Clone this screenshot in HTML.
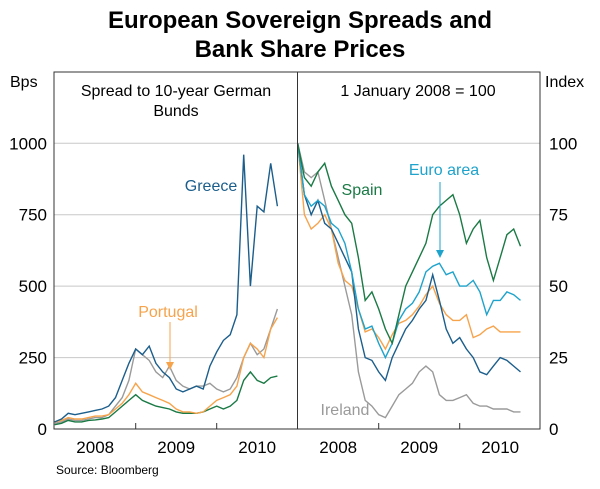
<!DOCTYPE html>
<html><head><meta charset="utf-8"><style>
body{margin:0;background:#fff;}
svg{display:block;font-family:"Liberation Sans",Arial,sans-serif;}
</style></head><body>
<svg id="chart" width="600" height="489">
<text x="300" y="28" text-anchor="middle" font-size="24" font-weight="bold">European Sovereign Spreads and</text>
<text x="300" y="57" text-anchor="middle" font-size="24" font-weight="bold">Bank Share Prices</text>
<text x="10" y="87" font-size="16">Bps</text>
<text x="545" y="87" font-size="16">Index</text>
<text x="176" y="96" text-anchor="middle" font-size="16">Spread to 10-year German</text>
<text x="176" y="116" text-anchor="middle" font-size="16">Bunds</text>
<text x="418" y="96" text-anchor="middle" font-size="16">1 January 2008 = 100</text>
<g id="grid"></g><g id="series"></g>
<rect x="54" y="72" width="486" height="357" fill="none" stroke="#333" stroke-width="1"/>
<line x1="297.5" y1="72" x2="297.5" y2="429" stroke="#333"/>
<g id="axes"></g>
<text x="211" y="191" text-anchor="middle" font-size="16" fill="#1b5e8c">Greece</text>
<text x="168" y="317" text-anchor="middle" font-size="16" fill="#f7a34b">Portugal</text>
<line x1="170" y1="322" x2="170" y2="362" stroke="#f7a34b"/>
<polygon points="166,362 174,362 170,370" fill="#f7a34b"/>
<text x="362" y="195" text-anchor="middle" font-size="16" fill="#1a7a45">Spain</text>
<text x="444" y="175" text-anchor="middle" font-size="16" fill="#1ea3cc">Euro area</text>
<line x1="440" y1="182" x2="440" y2="250" stroke="#1ea3cc"/>
<polygon points="436,250 444,250 440,258" fill="#1ea3cc"/>
<text x="345" y="415" text-anchor="middle" font-size="16" fill="#9a9a9a">Ireland</text>
<text x="56" y="474" font-size="12">Source: Bloomberg</text>
</svg>
<script>
const months=[0,1,2,3,4,5,6,7,8,9,10,11,12,13,14,15,16,17,18,19,20,21,22,23,24,25,26,27,28,29,30,31,32,33];
const spreadGreece=[25,35,55,50,55,60,65,70,80,110,170,230,280,260,290,230,200,180,140,130,140,150,140,220,270,310,330,400,960,500,780,760,930,780];
const spreadPortugal=[25,30,40,35,35,40,45,45,50,70,90,120,160,130,120,110,100,90,70,60,60,55,60,80,100,110,120,150,250,300,280,250,350,390];
const spreadIreland=[20,25,35,30,30,35,40,40,50,80,110,170,280,260,240,200,180,220,170,150,140,150,150,160,140,130,140,180,250,300,260,280,350,420];
const spreadSpain=[15,20,30,25,25,30,32,35,40,60,80,100,120,100,90,80,75,70,60,55,55,55,60,70,80,70,80,100,170,200,170,160,180,185];
const idxSpain=[100,88,85,90,93,85,80,75,72,60,45,48,42,35,30,40,50,55,60,65,75,78,80,82,75,65,70,73,60,52,60,68,70,64];
const idxEuro=[100,82,78,80,78,72,70,65,55,42,35,36,30,25,30,38,42,44,48,55,57,58,54,55,50,50,52,48,40,45,45,48,47,45];
const idxGreece=[100,82,75,80,72,70,65,60,55,35,25,24,20,17,25,30,35,38,42,45,54,45,35,30,32,28,25,20,19,22,25,24,22,20];
const idxPortugal=[100,75,70,72,75,70,58,52,50,42,34,35,32,28,33,37,38,40,43,47,50,44,40,38,38,40,32,33,35,36,34,34,34,34];
const idxIreland=[100,90,88,90,80,70,60,50,40,20,10,8,5,4,8,12,14,16,20,22,20,12,10,10,11,12,9,8,8,7,7,7,6,6];
const leftTicks=["0","250","500","750","1000"];
const rightTicks=["0","25","50","75","100"];
const years=["2008","2009","2010"];
const NS="http://www.w3.org/2000/svg";
const Y0=429,YTOP=143.3;
function xL(m){return 54.7+m*81/12;}
function xR(m){return 297.7+m*81/12;}
function yL(v){return Y0-(v/1000)*(Y0-YTOP);}
function yR(v){return Y0-(v/100)*(Y0-YTOP);}
const grid=document.getElementById('grid'),ser=document.getElementById('series'),axes=document.getElementById('axes');
function mk(tag,attrs,parent){const e=document.createElementNS(NS,tag);for(const k in attrs)e.setAttribute(k,attrs[k]);parent.appendChild(e);return e;}
leftTicks.forEach((t,i)=>{
  const y=yL(+t);
  if(i>0){const g=mk('line',{x1:54,x2:540,y1:y,y2:y,stroke:'#c8c8c8'},grid);
  
  }
  const a=mk('text',{x:47,y:y+6,'text-anchor':'end','font-size':17},axes);a.textContent=t;
  
  
});
rightTicks.forEach((t,i)=>{
  const y=yR(+t);
  const a=mk('text',{x:549,y:y+6,'font-size':17},axes);a.textContent=t;
  
  
});
years.forEach((yr,i)=>{
  [[xL,'left'],[xR,'right']].forEach(([fx,side])=>{
    if(i>0){const tk=mk('line',{x1:fx(i*12),x2:fx(i*12),y1:Y0,y2:Y0-6,stroke:'#333'},axes);
    
    }
    const lab=mk('text',{x:fx(i*12+6),y:453,'text-anchor':'middle','font-size':17},axes);lab.textContent=yr;
    
    
  });
});
function line(vals,fx,fy,color,name){
  const d=vals.map((v,i)=>(i?'L':'M')+fx(months[i]).toFixed(1)+','+fy(v).toFixed(1)).join('');
  const p=mk('path',{d:d,fill:'none',stroke:color,'stroke-width':1.4},ser);
  
  
}
line(spreadIreland,xL,yL,'#9a9a9a','series-spread-ireland');
line(spreadSpain,xL,yL,'#1a7a45','series-spread-spain');
line(spreadPortugal,xL,yL,'#f7a34b','series-spread-portugal');
line(spreadGreece,xL,yL,'#1b5e8c','series-spread-greece');
line(idxIreland,xR,yR,'#9a9a9a','series-index-ireland');
line(idxPortugal,xR,yR,'#f7a34b','series-index-portugal');
line(idxGreece,xR,yR,'#1b5e8c','series-index-greece');
line(idxEuro,xR,yR,'#1ea3cc','series-index-euro-area');
line(idxSpain,xR,yR,'#1a7a45','series-index-spain');
</script>
</body></html>
